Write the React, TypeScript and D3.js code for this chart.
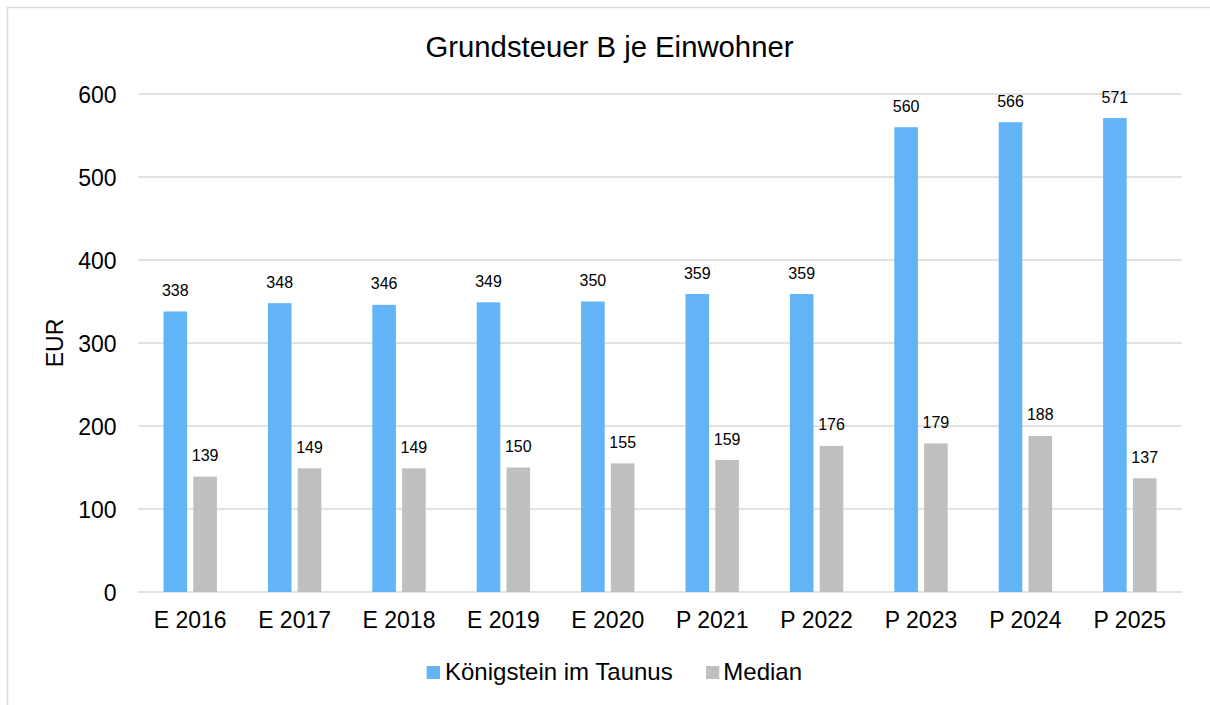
import React from "react";
import * as d3 from "d3";

const categories = ["E 2016", "E 2017", "E 2018", "E 2019", "E 2020", "P 2021", "P 2022", "P 2023", "P 2024", "P 2025"];
const koenigstein = [338, 348, 346, 349, 350, 359, 359, 560, 566, 571];
const median = [139, 149, 149, 150, 155, 159, 176, 179, 188, 137];
const yTicks = [0, 100, 200, 300, 400, 500, 600];
const seriesNames = ["Königstein im Taunus", "Median"];
const colors = ["#63B4F6", "#BFBFBF"];

const W = 1210, H = 705;
const left = 138, right = 1182, top = 94, bottom = 592;
const font = "'Liberation Sans', Arial, sans-serif";

export default function App() {
  const x = d3.scaleBand<string>().domain(categories).range([left, right]).paddingInner(0).paddingOuter(0);
  const y = d3.scaleLinear().domain([0, 600]).range([bottom, top]);
  const bw = 23.6, gap = 6.2;
  const series = [koenigstein, median];
  return (
    <svg width={W} height={H} style={{ position: "absolute", left: 0, top: 0, background: "#fff" }} fontFamily={font}>
      <rect x={7.5} y={7.5} width={1400} height={900} fill="#fff" stroke="#D9D9D9" strokeWidth={1.5} />
      <text x={609.5} y={56.5} textAnchor="middle" fontSize={29.3} fill="#000">Grundsteuer B je Einwohner</text>
      {yTicks.map((t) => (
        <g key={t}>
          <line x1={left} x2={right} y1={y(t)} y2={y(t)} stroke="#D9D9D9" strokeWidth={1.5} />
          <text x={116.5} y={y(t) + 8.5} textAnchor="end" fontSize={23} fill="#000">{t}</text>
        </g>
      ))}
      <text transform={`translate(63,${(top + bottom) / 2}) rotate(-90)`} textAnchor="middle" fontSize={23} fill="#000">EUR</text>
      {categories.map((c, i) => {
        const cx = x(c)! + x.bandwidth() / 2;
        return (
          <g key={c}>
            {series.map((s, k) => {
              const bx = k === 0 ? cx - gap / 2 - bw : cx + gap / 2;
              const v = s[i];
              return (
                <g key={k}>
                  <rect x={bx} y={y(v)} width={bw} height={y(0) - y(v)} fill={colors[k]} />
                  <text x={bx + bw / 2} y={y(v) - 15.5} textAnchor="middle" fontSize={16} fill="#000">{v}</text>
                </g>
              );
            })}
            <text x={cx} y={627.5} textAnchor="middle" fontSize={23} fill="#000">{c}</text>
          </g>
        );
      })}
      <g>
        <rect x={426.7} y={666} width={13.3} height={13} fill={colors[0]} />
        <text x={445} y={679.5} fontSize={24} fill="#000">{seriesNames[0]}</text>
        <rect x={706} y={666} width={13.3} height={13} fill={colors[1]} />
        <text x={723.3} y={679.5} fontSize={24} fill="#000">{seriesNames[1]}</text>
      </g>
    </svg>
  );
}
